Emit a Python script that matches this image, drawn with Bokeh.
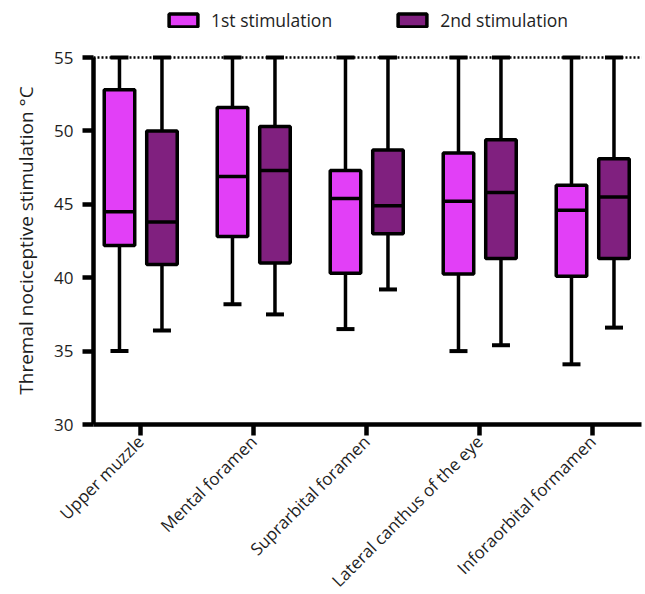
import numpy as np
from bokeh.plotting import figure
from bokeh.models import (ColumnDataSource, FixedTicker, Span, Legend, LegendItem,
                          Range1d, Label)
from bokeh.embed import file_html
from bokeh.resources import INLINE

categories = ["Upper muzzle", "Mental foramen", "Suprarbital foramen",
              "Lateral canthus of the eye", "Inforaorbital formamen"]
series_names = ["1st stimulation", "2nd stimulation"]
y_title = "Thremal nociceptive stimulation °C"

first_min = [35.0, 38.2, 36.5, 35.0, 34.1]
first_q1 = [42.2, 42.8, 40.3, 40.25, 40.1]
first_med = [44.5, 46.9, 45.4, 45.2, 44.6]
first_q3 = [52.8, 51.6, 47.3, 48.5, 46.3]
first_max = [55.0, 55.0, 55.0, 55.0, 55.0]

second_min = [36.4, 37.5, 39.2, 35.4, 36.6]
second_q1 = [40.9, 41.0, 43.0, 41.3, 41.3]
second_med = [43.8, 47.3, 44.9, 45.8, 45.5]
second_q3 = [50.0, 50.3, 48.7, 49.4, 48.1]
second_max = [55.0, 55.0, 55.0, 55.0, 55.0]

y_ticks = [30, 35, 40, 45, 50, 55]
y_min, y_max = 30, 55
x_lo, x_hi = -0.416, 4.434   # extent of the drawn x axis (category units)

FONT = "Open Sans"
TXT = "#1e1e1e"
colors = ["#E23FF7", "#80207F"]
offsets = [-0.186, 0.19]
BOX_W = 0.27
LW = 3.5

# The frame covers the whole canvas; both axes are placed at fixed locations
p = figure(width=645, height=594,
           x_range=Range1d(-1.2389, 4.469),
           y_range=Range1d(y_min - 11.58, y_max + 3.883),
           output_backend="svg", toolbar_location=None,
           min_border_left=0, min_border_right=0, min_border_top=0, min_border_bottom=0)

p.outline_line_color = None
p.xgrid.visible = False
p.ygrid.visible = False
p.background_fill_color = "white"
p.border_fill_color = "white"

stats = [
    (first_min, first_q1, first_med, first_q3, first_max),
    (second_min, second_q1, second_med, second_q3, second_max),
]

box_renderers = []
for k, (mn, q1, md, q3, mx) in enumerate(stats):
    x = np.arange(len(categories)) + offsets[k]
    src = ColumnDataSource(dict(
        x=x, xl=x - BOX_W / 2, xr=x + BOX_W / 2,
        mn=mn, q1=q1, md=md, q3=q3, mx=mx,
    ))
    p.segment(x0="x", y0="q3", x1="x", y1="mx", source=src, line_color="black", line_width=LW)
    p.segment(x0="x", y0="q1", x1="x", y1="mn", source=src, line_color="black", line_width=LW)
    p.scatter(x="x", y="mn", marker="dash", size=18, source=src, line_color="black", line_width=4)
    p.scatter(x="x", y="mx", marker="dash", size=18, source=src, line_color="black", line_width=4)
    r = p.vbar(x="x", width=BOX_W, top="q3", bottom="q1", source=src,
               fill_color=colors[k], line_color="black", line_width=LW)
    box_renderers.append(r)
    p.segment(x0="xl", y0="md", x1="xr", y1="md", source=src, line_color="black", line_width=LW)

# dotted reference line at the top of the scale
p.segment(x0=[x_lo], y0=[y_max], x1=[x_hi], y1=[y_max],
          line_color="black", line_width=2.5, line_dash="2 2")

# axes
for ax in (p.xaxis[0], p.yaxis[0]):
    ax.axis_line_width = 4.5
    ax.axis_line_color = "black"
    ax.major_tick_line_width = 4.5
    ax.major_tick_line_color = "black"
    ax.major_tick_in = 0
    ax.major_tick_out = 11
    ax.minor_tick_line_color = None
    ax.major_label_text_font = FONT
    ax.major_label_text_color = TXT

p.yaxis.fixed_location = x_lo
p.yaxis.bounds = (y_min, y_max)
p.yaxis.ticker = FixedTicker(ticks=y_ticks)
p.yaxis.major_label_text_font_size = "17px"
p.yaxis.major_label_standoff = 9

p.xaxis.fixed_location = y_min
p.xaxis.bounds = (x_lo, x_hi)
p.xaxis.ticker = FixedTicker(ticks=list(range(len(categories))))
p.xaxis.major_label_overrides = {i: c for i, c in enumerate(categories)}
p.xaxis.major_label_orientation = np.pi / 4
p.xaxis.major_label_text_font_size = "17px"
p.xaxis.major_label_standoff = 3

title = Label(x=25, y=354, x_units="screen", y_units="screen", text=y_title,
              angle=np.pi / 2, text_align="center", text_baseline="middle",
              text_font=FONT, text_font_size="19px", text_color=TXT)
p.add_layout(title)

legend = Legend(
    items=[LegendItem(label=series_names[i], renderers=[box_renderers[i]]) for i in range(2)],
    orientation="horizontal", location=(165, 562),
    glyph_width=36, glyph_height=16, label_standoff=10, spacing=62, label_height=16,
    padding=0, margin=0, border_line_color=None, background_fill_alpha=0,
    label_text_font=FONT, label_text_font_size="17.5px", label_text_color=TXT,
)
p.add_layout(legend, "center")

open("out.html", "w").write(file_html(p, INLINE))
